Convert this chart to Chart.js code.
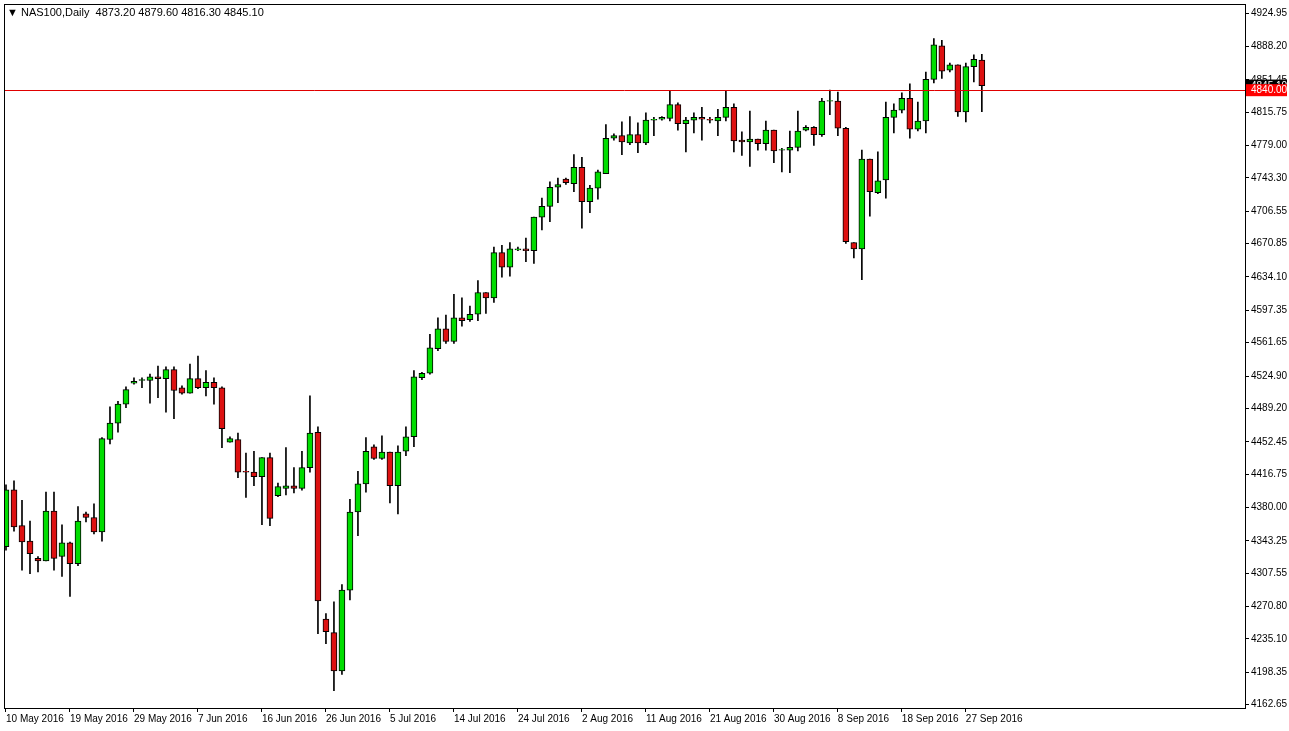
<!DOCTYPE html>
<html>
<head>
<meta charset="utf-8">
<script src="https://cdn.jsdelivr.net/npm/chart.js@4.4.1/dist/chart.umd.min.js"></script>
<style>
  html, body { margin: 0; padding: 0; background: #fff; }
  #wrap { position: relative; width: 1289px; height: 731px; overflow: hidden; }
  #chart { position: absolute; left: 0; top: -4px; }
  #title { position: absolute; left: 7px; top: 6px; font: 11px "Liberation Sans", sans-serif; color: #000; }
</style>
</head>
<body>
<div id="wrap">
  <canvas id="chart" width="1289" height="735"></canvas>
  <div id="title">&#9660; NAS100,Daily&nbsp; 4873.20 4879.60 4816.30 4845.10</div>
</div>
<script>
// ── DATA ──────────────────────────────────────────────────────────
const opens  = [4336.7,4399.5,4360,4343,4324,4321,4376,4326,4341,4318,4373,4369,4353,4455,4473,4494,4517,4520,4520,4524,4522,4532,4512,4506,4522,4512,4518,4512,4452,4455,4420,4419,4414,4435,4393,4401,4404,4401,4424,4463,4257,4242,4200,4289,4375,4406,4447,4434,4441,4404,4442,4458,4523,4528,4555,4577,4563,4589,4587,4593,4617,4611,4661,4645,4664,4665,4663,4700,4712,4733,4742,4737,4755,4717,4732,4748,4787,4790,4782,4791,4782,4807,4808,4809,4824,4803,4807,4810,4808,4806,4810,4821,4785,4783,4786,4781,4796,4774,4774,4777,4796,4799,4791,4828,4828,4798,4672,4665,4764,4727,4741,4810,4818,4831,4797,4806,4852,4889,4862,4868,4816,4866,4873.2];
const closes = [4399.5,4358.7,4342,4329,4321,4376,4324,4341,4318,4365,4369,4353,4456,4473,4494,4510,4519,4521,4524,4522,4532,4509,4506,4522,4512,4518,4512,4467,4456,4419,4419,4414,4435,4368,4403,4404,4401,4424,4462,4277,4243,4200,4289,4375,4406,4442,4434,4441,4404,4441,4458,4524,4528,4556,4577,4563,4589,4586,4593,4617,4611,4661,4645,4665,4665,4663,4700,4712,4733,4736,4738,4755,4717,4732,4750,4787,4790,4783,4791,4782,4807,4808,4810,4824,4803,4807,4810,4808,4807,4810,4821,4784,4783,4786,4781,4796,4773,4774,4777,4795,4799,4791,4828,4828,4798,4673,4665,4764,4728,4740,4810,4818,4831,4797,4806,4852,4890,4861,4868,4816,4866,4874,4845.1];
const highs  = [4405,4409.4,4388,4365,4326,4397,4397,4361,4342,4381,4375,4384,4457,4491,4497,4513,4523,4523,4527,4536,4535,4535,4514,4538,4547,4531,4523,4513,4458,4462,4440,4442,4435,4440,4407,4446,4424,4442,4503,4469,4263,4276,4295,4389,4420,4457,4449,4459,4441,4448,4469,4531,4529,4571,4589,4592,4615,4611,4602,4630,4617,4667,4669,4672,4667,4677,4700,4721,4739,4743,4743,4769,4766,4735,4752,4802,4792,4805,4811,4804,4815,4810,4811,4839,4826,4810,4815,4821,4810,4819,4839,4825,4794,4817,4786,4806,4796,4776,4795,4817,4801,4800,4831,4840,4838,4799,4672,4774,4764,4772,4827,4825,4837,4847,4827,4860,4897,4895,4870,4868,4870,4879,4879.6];
const lows   = [4333,4354,4311,4307,4309,4321,4311,4304,4282,4316,4364,4351,4343,4450,4463,4490,4516,4512,4495,4501,4485,4478,4505,4506,4511,4503,4494,4446,4452,4413,4391,4404,4361,4360,4392,4394,4396,4399,4419,4241,4230,4178,4196,4278,4349,4397,4433,4433,4385,4373,4437,4447,4521,4527,4553,4561,4561,4580,4585,4586,4594,4606,4634,4635,4663,4651,4649,4686,4695,4716,4736,4728,4688,4705,4720,4748,4785,4769,4780,4771,4780,4790,4807,4806,4796,4772,4793,4785,4804,4790,4806,4772,4768,4756,4774,4774,4760,4750,4749,4773,4795,4779,4789,4813,4790,4671,4655,4631,4701,4726,4721,4793,4815,4787,4795,4793,4848,4853,4860,4811,4805,4849,4816.3];

const tickLabels = ["10 May 2016","19 May 2016","29 May 2016","7 Jun 2016","16 Jun 2016","26 Jun 2016","5 Jul 2016","14 Jul 2016","24 Jul 2016","2 Aug 2016","11 Aug 2016","21 Aug 2016","30 Aug 2016","8 Sep 2016","18 Sep 2016","27 Sep 2016"];
const priceTicks = [4924.95,4888.20,4851.45,4815.75,4779.00,4743.30,4706.55,4670.85,4634.10,4597.35,4561.65,4524.90,4489.20,4452.45,4416.75,4380.00,4343.25,4307.55,4270.80,4235.10,4198.35,4162.65];
const lineLevel = 4840.00;
const lastClose = 4845.10;

// ── CHART ─────────────────────────────────────────────────────────
const GREEN = "#00dd00";
const RED   = "#dd1111";

const bodies = opens.map((o, i) => {
  const c = closes[i];
  const lo = Math.min(o, c), hi = Math.max(o, c);
  return { x: i, y: [lo, hi === lo ? hi + 0.6 : hi] };
});
const wicks = opens.map((o, i) => ({ x: i, y: [lows[i], highs[i]] }));
const bodyColors = opens.map((o, i) => closes[i] >= o ? GREEN : RED);

const framePlugin = {
  id: "frame",
  afterDatasetsDraw(chart) {
    const { ctx, chartArea: a, scales: { y } } = chart;
    ctx.save();
    // price line
    const py = Math.round(y.getPixelForValue(lineLevel)) + 0.5;
    ctx.strokeStyle = "#e00000";
    ctx.lineWidth = 1;
    ctx.beginPath(); ctx.moveTo(a.left, py); ctx.lineTo(a.right, py); ctx.stroke();
    // frame
    ctx.strokeStyle = "#000";
    ctx.strokeRect(a.left + 0.5, a.top + 0.5, a.right - a.left, a.bottom - a.top);
    // price tags
    ctx.font = "10px 'Liberation Sans', sans-serif";
    ctx.textBaseline = "middle";
    const tag = (val, bg) => {
      const ty = y.getPixelForValue(val);
      ctx.fillStyle = bg;
      ctx.fillRect(a.right + 1, ty - 6, 41, 12);
      ctx.fillStyle = "#fff";
      ctx.fillText(val.toFixed(2), a.right + 6, ty + 0.5);
    };
    tag(lastClose, "#000");
    tag(lineLevel, "#ff0000");
    ctx.restore();
  }
};

new Chart(document.getElementById("chart"), {
  type: "bar",
  data: {
    datasets: [
      { label: "wick", data: wicks, backgroundColor: "#000", barThickness: 1, grouped: false, order: 2 },
      { label: "body", data: bodies, backgroundColor: bodyColors, borderColor: "#000", borderWidth: 1,
        borderSkipped: false, barThickness: 6, grouped: false, order: 1 }
    ]
  },
  options: {
    responsive: false,
    animation: false,
    layout: { padding: { left: 4, top: 0, right: 0, bottom: 0 } },
    plugins: { legend: { display: false }, tooltip: { enabled: false } },
    scales: {
      x: {
        type: "linear",
        offset: false,
        bounds: "data",
        min: -0.25,
        max: 154.9,
        afterBuildTicks: s => { s.ticks = tickLabels.map((t, i) => ({ value: i * 8 })); },
        afterFit: s => { s.height = 23; },
        ticks: {
          callback: (v) => tickLabels[Math.round(v / 8)] || "",
          autoSkip: false, maxRotation: 0, align: "start", padding: 1,
          color: "#000", font: { family: "Liberation Sans", size: 10 }
        },
        grid: { drawOnChartArea: false, tickLength: 4, color: "#000", offset: false },
        border: { color: "#000" }
      },
      y: {
        position: "right",
        min: 4159,
        max: 4935,
        afterBuildTicks: s => { s.ticks = priceTicks.map(v => ({ value: v })); },
        afterFit: s => { s.width = 44; },
        ticks: {
          callback: v => v.toFixed(2),
          color: "#000", padding: 2, font: { family: "Liberation Sans", size: 10 }
        },
        grid: { drawOnChartArea: false, tickLength: 4, color: "#000" },
        border: { color: "#000" }
      }
    }
  },
  plugins: [framePlugin]
});
</script>
</body>
</html>
